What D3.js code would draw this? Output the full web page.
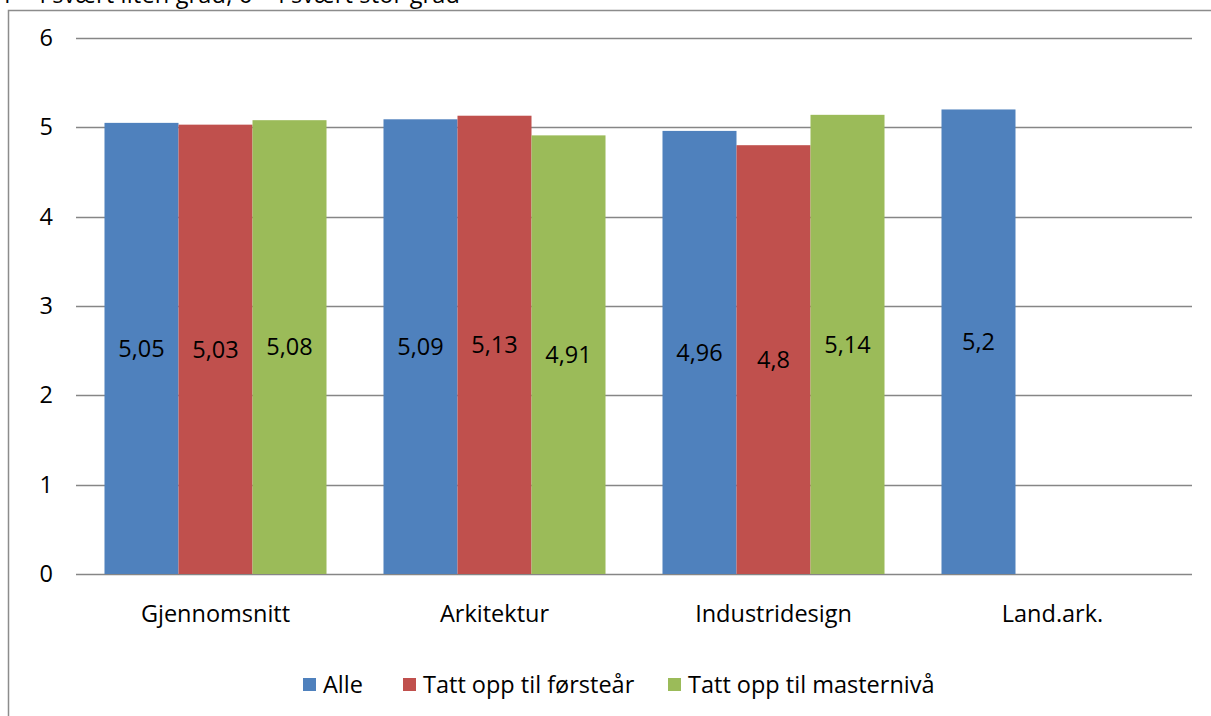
<!DOCTYPE html>
<html>
<head>
<meta charset="utf-8">
<script src="https://cdn.jsdelivr.net/npm/d3@7"></script>
<style>
  html, body { margin: 0; padding: 0; background: #fff; }
  svg { display: block; }
  text { font-family: "Open Sans", sans-serif; fill: #000; }
</style>
</head>
<body>
<svg id="chart" width="1211" height="716"></svg>
<script>
const categories = ["Gjennomsnitt", "Arkitektur", "Industridesign", "Land.ark."];
const seriesNames = ["Alle", "Tatt opp til førsteår", "Tatt opp til masternivå"];
const alle = [5.05, 5.09, 4.96, 5.2];
const forsteaar = [5.03, 5.13, 4.8, null];
const masterniva = [5.08, 4.91, 5.14, null];
const yTicks = [0, 1, 2, 3, 4, 5, 6];
const colors = ["#4F81BD", "#C0504D", "#9BBB59"];
const titleText = "1 = i svært liten grad, 6 = i svært stor grad";

const FONT = 23.5;
const seriesValues = [alle, forsteaar, masterniva];
const svg = d3.select("#chart");

// outer chart border
svg.append("rect").attr("x", 8.5).attr("y", 10.5).attr("width", 1240).attr("height", 740)
  .attr("fill", "none").attr("stroke", "#8c8c8c").attr("stroke-width", 1.5);

// title (cut off at the top edge, as in the reference)
svg.append("text").attr("x", 0).attr("y", 3).attr("font-size", FONT).attr("textLength", 460).text(titleText);

const x = d3.scaleBand().domain(categories).range([76, 1192]).paddingInner(0).paddingOuter(0);
const y = d3.scaleLinear().domain([0, 6]).range([574, 38]);
const inner = d3.scaleBand().domain(d3.range(seriesNames.length)).range([0, x.bandwidth()]).paddingOuter(0.385).paddingInner(0);

// gridlines
svg.append("g").selectAll("line").data(yTicks).join("line")
  .attr("x1", 76).attr("x2", 1192)
  .attr("y1", d => Math.round(y(d)) + 0.5).attr("y2", d => Math.round(y(d)) + 0.5)
  .attr("stroke", "#868686").attr("stroke-width", 1.5);

// y axis labels
const yAxis = d3.axisLeft(y).tickValues(yTicks).tickSize(0).tickPadding(0).tickFormat(d3.format("d"));
const yg = svg.append("g").attr("transform", "translate(53,0)").call(yAxis);
yg.select(".domain").remove();
yg.selectAll("text").attr("font-size", FONT).attr("font-family", "'Open Sans', sans-serif").attr("fill", "#000");

// bars
const data = [];
categories.forEach((c, ci) => {
  seriesValues.forEach((s, si) => {
    if (s[ci] != null) data.push({ c, si, v: s[ci] });
  });
});

svg.append("g").selectAll("rect").data(data).join("rect")
  .attr("x", d => x(d.c) + inner(d.si))
  .attr("width", inner.bandwidth())
  .attr("y", d => y(d.v))
  .attr("height", d => y(0) - y(d.v))
  .attr("fill", d => colors[d.si]);

// value labels
svg.append("g").selectAll("text").data(data).join("text")
  .attr("x", d => x(d.c) + inner(d.si) + inner.bandwidth() / 2)
  .attr("y", d => y(d.v / 2))
  .attr("dy", "0.35em")
  .attr("text-anchor", "middle")
  .attr("font-size", FONT)
  .text(d => String(d.v).replace(".", ","));

// x axis labels
const xAxis = d3.axisBottom(x).tickSize(0).tickPadding(0);
const xg = svg.append("g").attr("transform", "translate(0,605)").call(xAxis);
xg.select(".domain").remove();
xg.selectAll("text").attr("font-size", FONT).attr("font-family", "'Open Sans', sans-serif").attr("fill", "#000");

// legend
const legendX = [303, 403, 668];
const lg = svg.append("g").selectAll("g").data(seriesNames).join("g")
  .attr("transform", (d, i) => `translate(${legendX[i]},678)`);
lg.append("rect").attr("width", 13).attr("height", 13).attr("fill", (d, i) => colors[i]);
lg.append("text").attr("x", 20).attr("y", 6.5).attr("dy", "0.35em").attr("font-size", FONT).text(d => d);
</script>
</body>
</html>
